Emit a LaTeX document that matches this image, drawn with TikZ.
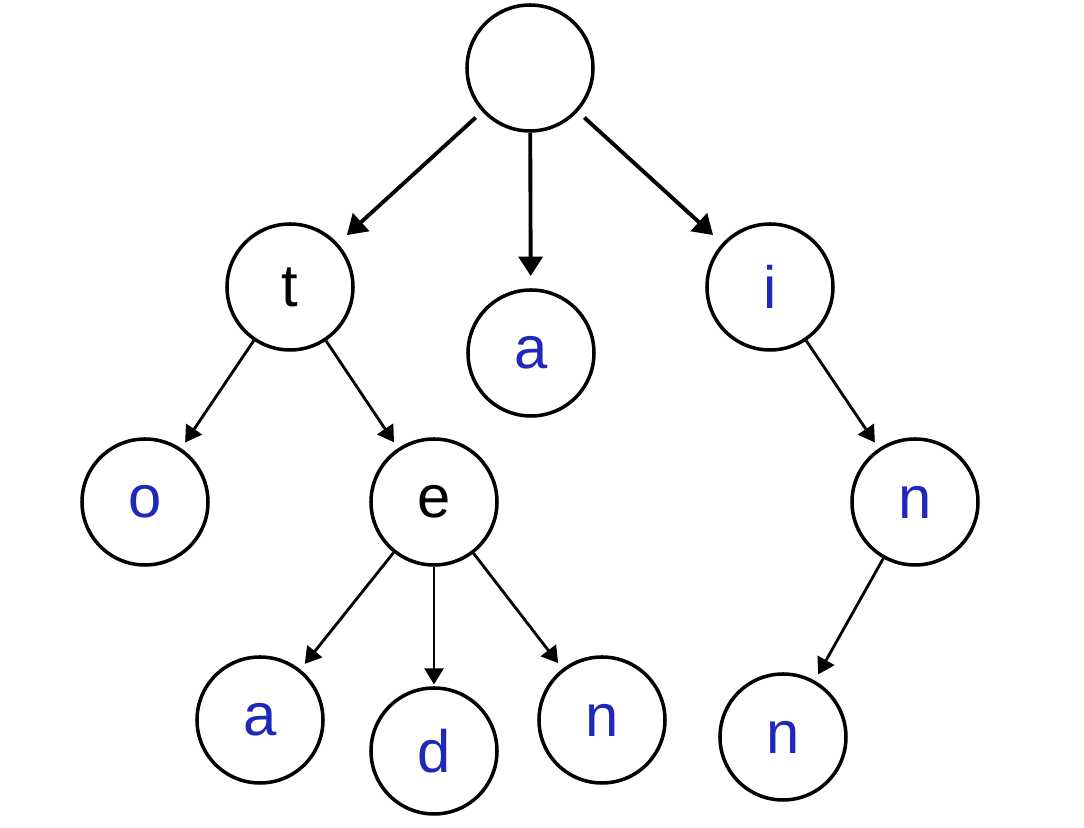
\documentclass[tikz,border=0pt]{standalone}
\usepackage{fontspec}
\setmainfont{Liberation Sans}
\usetikzlibrary{arrows.meta}
\definecolor{letterblue}{RGB}{30,40,185}
\tikzset{
    trienode/.style={circle, draw=black, line width=1pt, minimum size=1.26cm, inner sep=0pt, font=\fontsize{17}{20}\selectfont},
    leaf/.style={trienode, text=letterblue},
    bigarrow/.style={line width=1.1pt, -{Triangle[length=5.5pt,width=6.8pt]}, shorten >=3.5pt},
    arrow/.style={line width=0.8pt, -{Triangle[length=4.6pt,width=5.4pt]}, shorten >=2pt}
}

\begin{document}
\begin{tikzpicture}
    \useasboundingbox (0,0) rectangle (10.84,8.28);

    % Nodes of the trie
    \node[trienode] (root) at (5.30, 7.60) {};
    \node[trienode] (t) at (2.90, 5.41) {t};
    \node[leaf] (ta) at (5.31, 4.75) {a};
    \node[leaf] (i) at (7.70, 5.41) {i};
    \node[leaf] (to) at (1.45, 3.26) {o};
    \node[trienode] (te) at (4.34, 3.26) {e};
    \node[leaf] (in) at (9.15, 3.26) {n};
    \node[leaf] (tea) at (2.60, 1.08) {a};
    \node[leaf] (ted) at (4.34, 0.77) {d};
    \node[leaf] (ten) at (6.02, 1.08) {n};
    \node[leaf] (inn) at (7.83, 0.91) {n};

    % Edges
    \draw[bigarrow, shorten <=2.5pt] (root) -- (t);
    \draw[bigarrow, shorten >=3.5pt] (root) -- (ta);
    \draw[bigarrow, shorten <=2.5pt] (root) -- (i);
    \draw[arrow] (t) -- (to);
    \draw[arrow] (t) -- (te);
    \draw[arrow] (te) -- (tea);
    \draw[arrow, shorten >=0.5pt] (te) -- (ted);
    \draw[arrow] (te) -- (ten);
    \draw[arrow] (i) -- (in);
    \draw[arrow] (in) -- (inn);
\end{tikzpicture}
\end{document}
